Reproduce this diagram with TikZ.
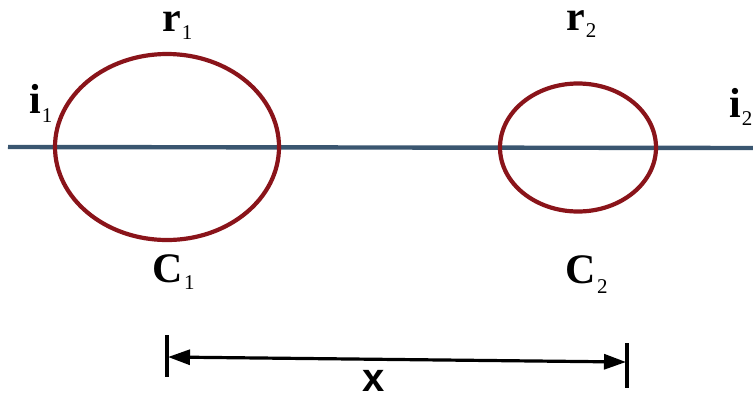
\documentclass[tikz,border=0pt]{standalone}
\usepackage{fontspec}
\setmainfont{Liberation Serif}
\newfontfamily\xsans{Liberation Sans}
\usetikzlibrary{shapes.geometric,arrows.meta}
\definecolor{ringred}{RGB}{138,20,26}
\definecolor{axisblue}{RGB}{58,86,112}
\newcommand{\mylab}[3]{\textbf{#1}\kern1bp\raisebox{-#3bp}{\fontsize{21bp}{21bp}\selectfont #2}}
\tikzset{
  ring/.style={draw=ringred, line width=4.2bp, ellipse, inner sep=0pt, outer sep=0pt},
  lab/.style={anchor=base west, inner sep=0pt, font=\fontsize{42bp}{44bp}\selectfont, text=black},
  dimline/.style={line width=3.2bp, black},
  dimbar/.style={line width=3.8bp, black},
}
\begin{document}
\begin{tikzpicture}[x=1bp, y=-1bp]
\useasboundingbox (0,0) rectangle (753,396);
% axis
\coordinate (axL) at (8,147);
\coordinate (axR) at (753,148);
\draw[axisblue, line width=4.4bp] (axL) -- (axR);
% rings
\node[ring, minimum width=224bp, minimum height=186bp] (c1) at (167,147) {};
\node[ring, minimum width=156bp, minimum height=128bp] (c2) at (578,147.5) {};
% labels
\node[lab] (r1) at (162,31) {\mylab{r}{1}{8}};
\node[lab] (r2) at (566,30) {\mylab{r}{2}{7}};
\node[lab] (i1) at (29,113) {\mylab{i}{1}{9}};
\node[lab] (i2) at (729,117) {\mylab{i}{2}{8}};
\node[lab] (C1) at (152.5,282) {\mylab{C}{1}{7}};
\node[lab] (C2) at (565.5,283) {\mylab{C}{2}{10}};
% dimension
\coordinate (Lt) at (167,335);
\coordinate (Lb) at (167,377);
\coordinate (Rt) at (627,343);
\coordinate (Rb) at (627,388);
\coordinate (L) at (168,357);
\coordinate (R) at (626,362);
\draw[dimbar] (Lt) -- (Lb);
\draw[dimbar] (Rt) -- (Rb);
\draw[dimline, {Triangle[length=22bp,width=15bp]}-{Triangle[length=22bp,width=15bp]}] (L) -- (R);
\node[anchor=base west, inner sep=0pt, font=\xsans\bfseries\fontsize{40bp}{42bp}\selectfont] (xl) at (362,391) {x};
\end{tikzpicture}
\end{document}
